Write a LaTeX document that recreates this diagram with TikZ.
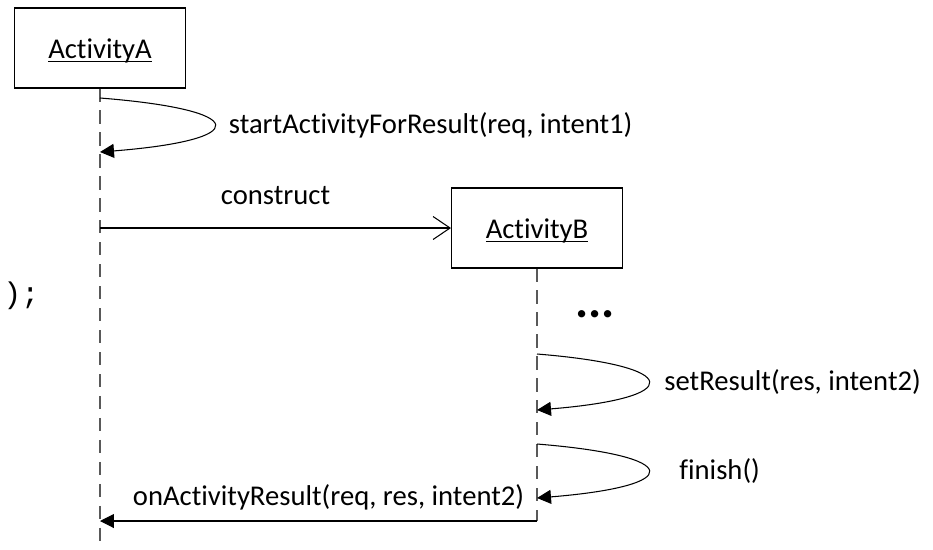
\documentclass[tikz,border=0pt]{standalone}
\usepackage{fontspec}
\setmainfont{Carlito}[Ligatures=NoCommon]
\setmonofont{Liberation Mono}
\usetikzlibrary{positioning,arrows.meta}

\begin{document}
\begin{tikzpicture}[x=0.02cm,y=-0.02cm,font=\fontsize{16.3}{19}\selectfont,
  object/.style={draw,line width=0.6pt,minimum width=3.42cm,minimum height=1.6cm},
  lifeline/.style={draw=black!65,line width=0.6pt,dash pattern=on 7.5pt off 5pt},
  msg/.style={line width=0.6pt,-{Triangle[length=0.28cm,width=0.28cm]}},
  create/.style={line width=0.6pt,-{Straight Barb[length=0.34cm,width=0.46cm]}}]
\useasboundingbox (0,0) rectangle (933,549);

% objects
\node[object] (actA) at (100,48) {\rule{0pt}{14pt}\underline{\smash{ActivityA}}};
\node[object] (actB) at (537,228) {\rule{0pt}{14pt}\underline{\smash{ActivityB}}};

% lifelines
\coordinate (endA) at (100,549);
\coordinate (endB) at (537,521);
\draw[lifeline] (actA.south) -- (endA);
\draw[lifeline] (actB.south) -- (endB);

% self messages
\coordinate (a1) at (100,98);
\coordinate (a2) at (100,152);
\coordinate (b1) at (537,354);
\coordinate (b2) at (537,410);
\coordinate (b3) at (537,444);
\coordinate (b4) at (537,498);
\draw[msg] (a1) .. controls +(152,12) and +(152,-12) .. (a2)
  node[pos=0.5,right=0.17cm] (lblA) {startActivityForResult(req, intent1)};
\draw[msg] (b1) .. controls +(148,12) and +(148,-12) .. (b2)
  node[pos=0.5,right=0.2cm] (lblB) {setResult(res, intent2)};
\draw[msg] (b3) .. controls +(148,12) and +(148,-12) .. (b4)
  node[pos=0.5,right=0.5cm] (lblC) {finish()};

% create and return
\coordinate (c0) at (actA.south |- actB.west);
\draw[create] (c0) -- (actB.west) node[midway,above=0.33cm] (lblD) {construct};
\coordinate (r0) at (endB);
\coordinate (r1) at (100,521);
\draw[msg] (r0) -- (r1) node[midway,above=0.1cm,xshift=0.2cm] (lblE) {onActivityResult(req, res, intent2)};

\node[font=\bfseries\fontsize{28}{30}\selectfont,anchor=base] (dots) at (595,317) {...};
\node[font=\ttfamily\fontsize{17}{19}\selectfont,anchor=base west,inner sep=0pt] (code) at (3,303) {);};
\end{tikzpicture}
\end{document}
